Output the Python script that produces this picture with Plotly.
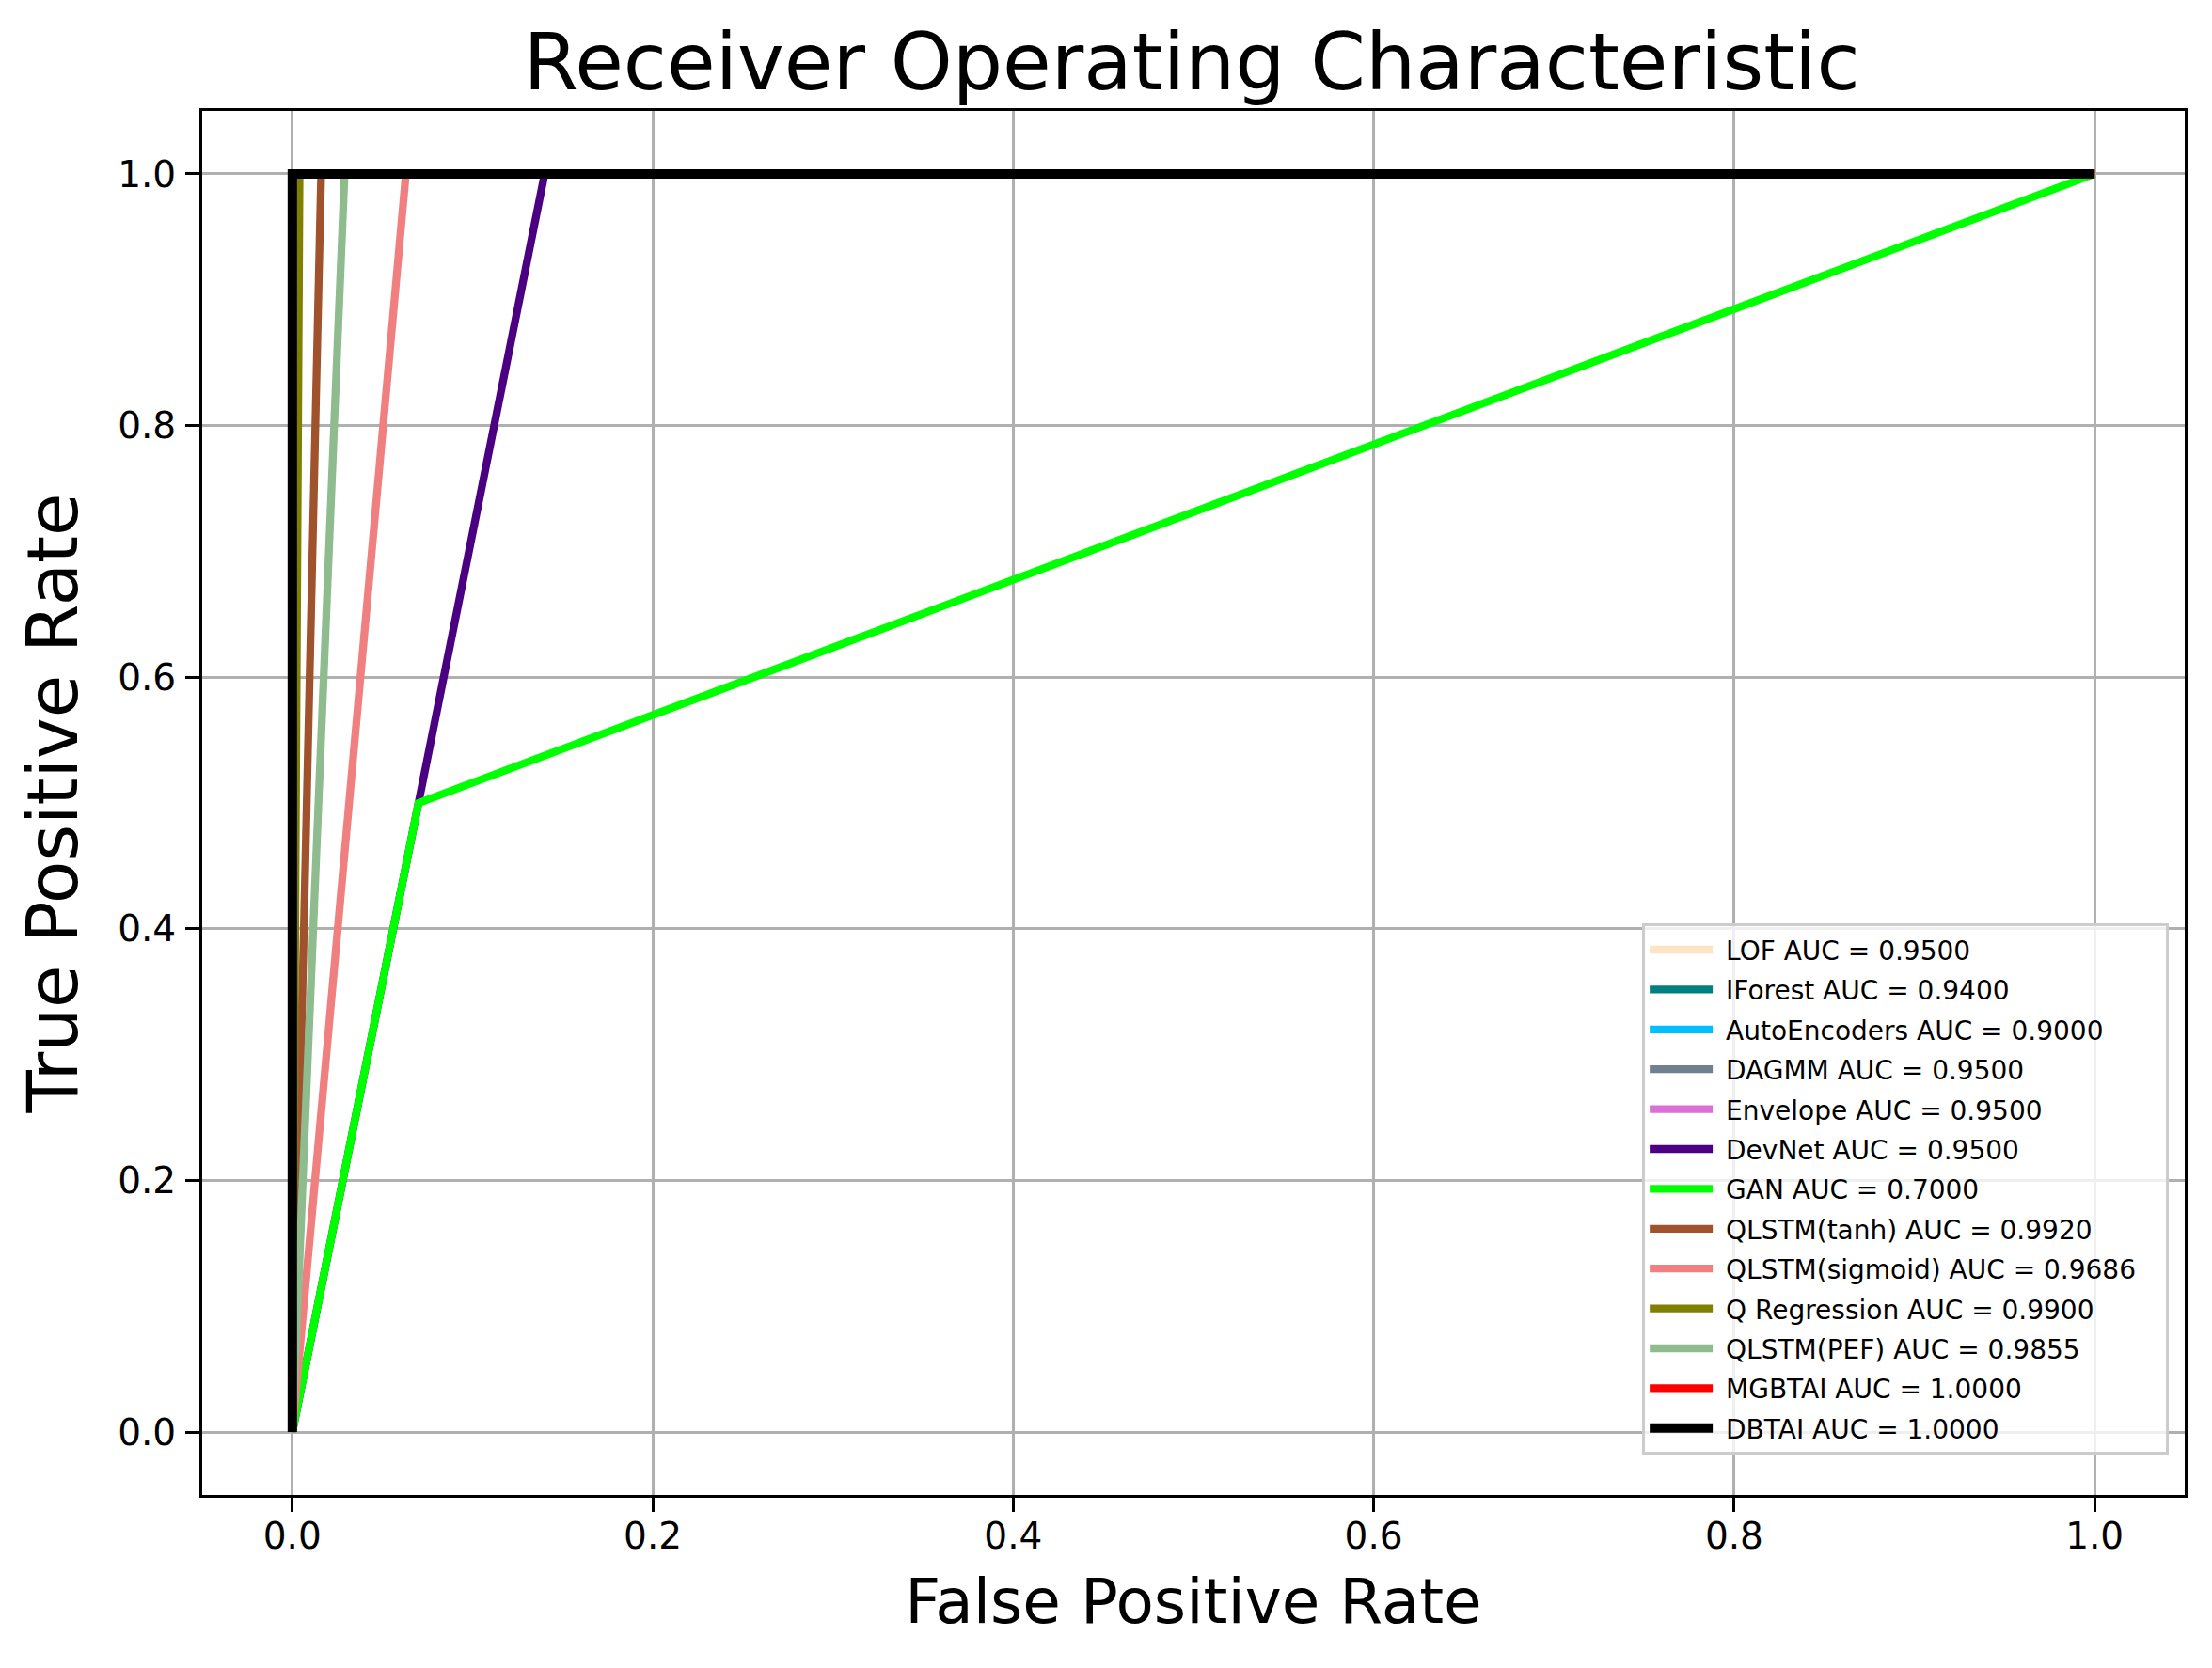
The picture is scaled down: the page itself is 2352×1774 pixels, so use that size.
import plotly.graph_objects as go

# ROC curve points
models = ['LOF', 'IForest', 'AutoEncoders', 'DAGMM', 'Envelope', 'DevNet', 'GAN',
          'QLSTM(tanh)', 'QLSTM(sigmoid)', 'Q Regression', 'QLSTM(PEF)', 'MGBTAI', 'DBTAI']
auc = [0.95, 0.94, 0.90, 0.95, 0.95, 0.95, 0.70, 0.992, 0.9686, 0.99, 0.9855, 1.0, 1.0]
fpr = [
    [0, 0, 1],
    [0, 0, 1],
    [0, 0, 1],
    [0, 0, 1],
    [0, 0, 1],
    [0, 0.07, 0.14, 1],
    [0, 0.07, 1],
    [0, 0.016, 1],
    [0, 0.063, 1],
    [0, 0.004, 1],
    [0, 0.029, 1],
    [0, 0, 1],
    [0, 0, 1],
]
tpr = [
    [0, 1, 1],
    [0, 1, 1],
    [0, 1, 1],
    [0, 1, 1],
    [0, 1, 1],
    [0, 0.5, 1, 1],
    [0, 0.5, 1],
    [0, 1, 1],
    [0, 1, 1],
    [0, 1, 1],
    [0, 1, 1],
    [0, 1, 1],
    [0, 1, 1],
]
colors = ['#FFE4C4', '#008080', '#00BFFF', '#708090', '#DA70D6', '#4B0082', '#00FF00',
          '#A0522D', '#F08080', '#808000', '#8FBC8F', '#FF0000', '#000000']
ticks = [0.0, 0.2, 0.4, 0.6, 0.8, 1.0]

fig = go.Figure()
for i, name in enumerate(models):
    fig.add_trace(go.Scatter(
        x=fpr[i], y=tpr[i], mode='lines',
        # nbsp around the label mimics matplotlib's legend padding
        name=f'&nbsp;{name} AUC = {auc[i]:.4f}&nbsp;&nbsp;&nbsp;',
        legendgroup=name,
        line=dict(color=colors[i], width=10 if name == 'DBTAI' else 8.3),
    ))

font = 'DejaVu Sans, Liberation Sans, sans-serif'
axis_style = dict(
    tickvals=ticks, tickformat='.1f',
    showline=True, mirror=True, linecolor='black', linewidth=3,
    ticks='outside', ticklen=15, tickwidth=3, tickcolor='black',
    showgrid=True, gridcolor='#b0b0b0', gridwidth=3, zeroline=False,
    tickfont=dict(family=font, size=39, color='black'),
)

# the page adds an 8px body margin, so the figure is a bit smaller than the window
fig.update_layout(
    width=2336, height=1758,
    margin=dict(l=207, r=21, t=110, b=176),
    paper_bgcolor='white', plot_bgcolor='white',
    font=dict(family=font, color='black'),
    title=dict(text='Receiver Operating Characteristic', x=0.539, xanchor='center',
               y=1 - 58 / 1758, yref='container', yanchor='middle',
               font=dict(size=84, family=font, color='black')),
    xaxis=dict(range=[-0.05, 1.05], ticklabelstandoff=-8,
               title=dict(text='False Positive Rate', standoff=26,
                          font=dict(size=66, family=font, color='black')), **axis_style),
    yaxis=dict(range=[-0.05, 1.05], ticklabelstandoff=2,
               title=dict(text='True Positive Rate', standoff=19,
                          font=dict(size=74, family=font, color='black')), **axis_style),
    legend=dict(x=0.992, y=0.029, xanchor='right', yanchor='bottom',
                bgcolor='rgba(255,255,255,0.8)', bordercolor='#cccccc', borderwidth=3,
                font=dict(size=28, family=font, color='black'),
                itemwidth=67, tracegroupgap=3),
    showlegend=True,
)

fig.write_html('out.html')
